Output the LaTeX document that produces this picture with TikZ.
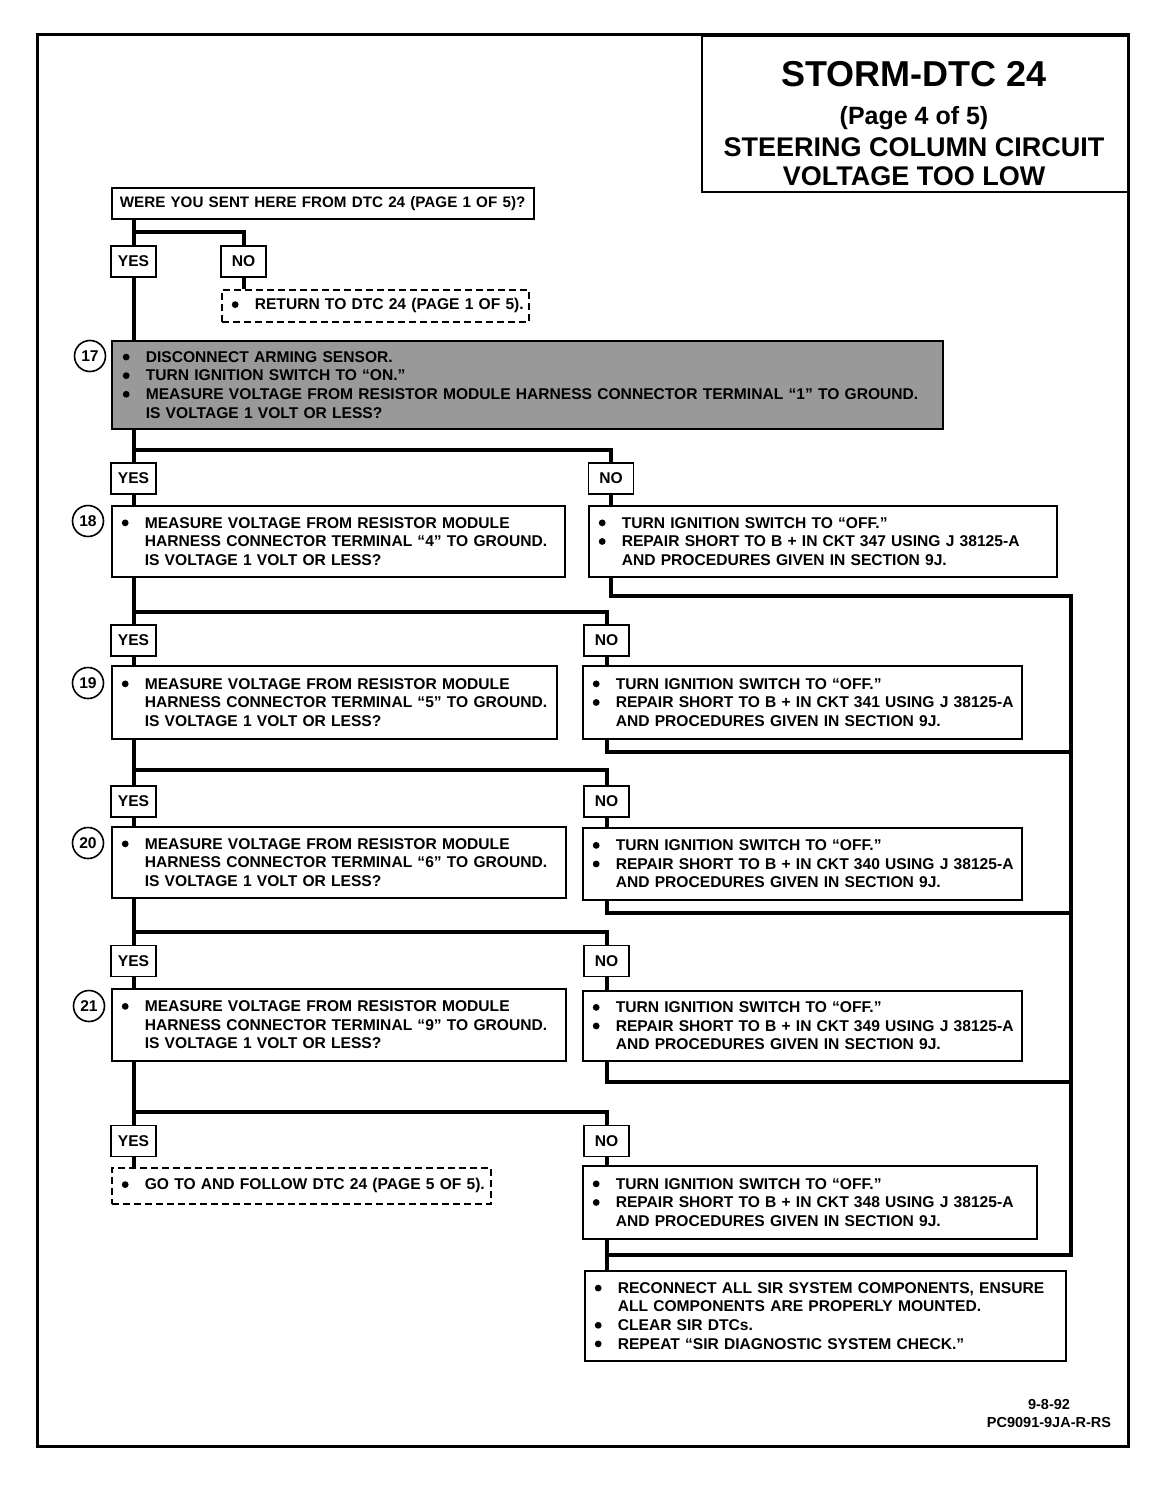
\documentclass[tikz,border=0pt]{standalone}
\usepackage{fontspec}
\setmainfont{Liberation Sans}
\newcommand\txt{\fontsize{15.6}{18.6}\selectfont\bfseries}
\newcommand\dotmark{\tikz[baseline=0pt]\fill (0pt,5.2pt) circle[radius=3.4pt];}
\newcommand\bul[1]{\mbox{\makebox[23pt][l]{\dotmark}#1}}
\newcommand\ind[1]{\mbox{\hspace{23pt}#1}}
\begin{document}
\begin{tikzpicture}[x=1pt,y=-1pt,
  box/.style={draw, line width=1.6pt, anchor=north west, inner xsep=10pt, inner ysep=0pt, align=left, font=\txt},
  bx/.style n args={2}{box, text width=#1, minimum height=#2},
  dbox/.style={dashed, dash pattern=on 7pt off 4pt},
  lab/.style={draw, line width=1.6pt, minimum width=45pt, minimum height=31pt, inner sep=0pt, font=\txt},
  num/.style={draw, circle, line width=1.6pt, minimum size=31pt, inner sep=0pt, font=\txt},
  conn/.style={line width=4pt},
  rconn/.style={line width=4pt, line cap=rect}
]
\useasboundingbox (0,0) rectangle (1152,1488);
\draw[line width=3pt] (37,35) rectangle (1128,1446);
% title
\node[draw, line width=2pt, anchor=north west, minimum width=427pt, minimum height=156pt, inner sep=0pt] (title) at (701,35) {};
\node[anchor=base, font=\fontsize{36}{40}\selectfont\bfseries] (t1) at (914,86) {STORM-DTC 24};
\node[anchor=base, font=\fontsize{25}{30}\selectfont\bfseries] (t2) at (914,124) {(Page 4 of 5)};
\node[anchor=base, font=\fontsize{27}{30}\selectfont\bfseries] (t3) at (914,156) {STEERING COLUMN CIRCUIT};
\node[anchor=base, font=\fontsize{27}{30}\selectfont\bfseries] (t4) at (914,185) {VOLTAGE TOO LOW};

% question
\node[bx={406pt}{31pt}, inner xsep=8pt] (q) at (111,187) {\mbox{\fontsize{15.2}{18}\selectfont WERE YOU SENT HERE FROM DTC 24 (PAGE 1 OF 5)?}};
\node[lab] (y0) at (133.5,261.5) {YES};
\node[lab] (n0) at (243.5,261.5) {NO};
\node[bx={287pt}{32pt}, dbox] (r0) at (221,289) {\bul{RETURN TO DTC 24 (PAGE 1 OF 5).}};
\coordinate (b0) at (133.5,232);

% step 17
\node[bx={809pt}{88pt}, fill=black!40, inner xsep=11pt] (s17) at (111,340) {\bul{DISCONNECT ARMING SENSOR.}\\
\bul{TURN IGNITION SWITCH TO “ON.”}\\
\bul{MEASURE VOLTAGE FROM RESISTOR MODULE HARNESS CONNECTOR TERMINAL “1” TO GROUND.}\\
\ind{IS VOLTAGE 1 VOLT OR LESS?}};
\node[num] (c17) at (90,356) {17};
\coordinate (b17) at (133.5,450);
\node[lab] (y17) at (133.5,478.5) {YES};
\node[lab] (n17) at (611,478.5) {NO};

% step 18
\node[bx={433pt}{71pt}, inner xsep=10pt] (s18) at (111,505) {\bul{MEASURE VOLTAGE FROM RESISTOR MODULE}\\
\ind{HARNESS CONNECTOR TERMINAL “4” TO GROUND.}\\
\ind{IS VOLTAGE 1 VOLT OR LESS?}};
\node[num] (c18) at (88,521) {18};
\node[bx={448pt}{71pt}] (a18) at (588,505) {\bul{TURN IGNITION SWITCH TO “OFF.”}\\
\bul{REPAIR SHORT TO B + IN CKT 347 USING J 38125-A}\\
\ind{AND PROCEDURES GIVEN IN SECTION 9J.}};
\coordinate (m18) at (1071,596);
\coordinate (b18) at (133.5,612);
\node[lab] (y18) at (133.5,640.5) {YES};
\node[lab] (n18) at (606.5,640.5) {NO};

% step 19
\node[bx={425pt}{73pt}] (s19) at (111,665) {\bul{MEASURE VOLTAGE FROM RESISTOR MODULE}\\
\ind{HARNESS CONNECTOR TERMINAL “5” TO GROUND.}\\
\ind{IS VOLTAGE 1 VOLT OR LESS?}};
\node[num] (c19) at (88,683) {19};
\node[bx={419pt}{73pt}] (a19) at (582,665) {\bul{TURN IGNITION SWITCH TO “OFF.”}\\
\bul{REPAIR SHORT TO B + IN CKT 341 USING J 38125-A}\\
\ind{AND PROCEDURES GIVEN IN SECTION 9J.}};
\coordinate (m19) at (1071,752);
\coordinate (b19) at (133.5,770);
\node[lab] (y19) at (133.5,801.5) {YES};
\node[lab] (n19) at (606.5,801.5) {NO};

% step 20
\node[bx={434pt}{71pt}] (s20) at (111,826) {\bul{MEASURE VOLTAGE FROM RESISTOR MODULE}\\
\ind{HARNESS CONNECTOR TERMINAL “6” TO GROUND.}\\
\ind{IS VOLTAGE 1 VOLT OR LESS?}};
\node[num] (c20) at (88,843) {20};
\node[bx={419pt}{72pt}] (a20) at (582,827) {\bul{TURN IGNITION SWITCH TO “OFF.”}\\
\bul{REPAIR SHORT TO B + IN CKT 340 USING J 38125-A}\\
\ind{AND PROCEDURES GIVEN IN SECTION 9J.}};
\coordinate (m20) at (1071,913);
\coordinate (b20) at (133.5,932);
\node[lab] (y20) at (133.5,961) {YES};
\node[lab] (n20) at (606.5,961) {NO};

% step 21
\node[bx={434pt}{72pt}] (s21) at (111,988) {\bul{MEASURE VOLTAGE FROM RESISTOR MODULE}\\
\ind{HARNESS CONNECTOR TERMINAL “9” TO GROUND.}\\
\ind{IS VOLTAGE 1 VOLT OR LESS?}};
\node[num] (c21) at (89,1006) {21};
\node[bx={419pt}{70pt}] (a21) at (582,990) {\bul{TURN IGNITION SWITCH TO “OFF.”}\\
\bul{REPAIR SHORT TO B + IN CKT 349 USING J 38125-A}\\
\ind{AND PROCEDURES GIVEN IN SECTION 9J.}};
\coordinate (m21) at (1071,1082);
\coordinate (b21) at (133.5,1112);
\node[lab] (y21) at (133.5,1141) {YES};
\node[lab] (n21) at (606.5,1141) {NO};

% ends
\node[bx={359pt}{36pt}, dbox] (goto) at (111,1167) {\bul{GO TO AND FOLLOW DTC 24 (PAGE 5 OF 5).}};
\node[bx={434pt}{73pt}] (a22) at (582,1165) {\bul{TURN IGNITION SWITCH TO “OFF.”}\\
\bul{REPAIR SHORT TO B + IN CKT 348 USING J 38125-A}\\
\ind{AND PROCEDURES GIVEN IN SECTION 9J.}};
\coordinate (m22) at (1071,1255);
\node[bx={461pt}{90pt}] (fin) at (584,1270) {\bul{RECONNECT ALL SIR SYSTEM COMPONENTS, ENSURE}\\
\ind{ALL COMPONENTS ARE PROPERLY MOUNTED.}\\
\bul{CLEAR SIR DTCs.}\\
\bul{REPEAT “SIR DIAGNOSTIC SYSTEM CHECK.”}};

\node[align=center, font=\fontsize{14.5}{18}\selectfont\bfseries] (foot) at (1049,1413) {9-8-92\\PC9091-9JA-R-RS};

% connectors
\draw[conn] (y0.north |- q.south) -- (y0.north);
\draw[conn] (b0) -| (n0.north);
\draw[conn] (n0.south) -- (n0.south |- r0.north);
\draw[conn] (y0.south) -- (y0.south |- s17.north);

\draw[conn] (y0.south |- s17.south) -- (y17.north);
\draw[conn] (b17) -| (n17.north);
\draw[conn] (y17.south) -- (y17.south |- s18.north);
\draw[conn] (n17.south) -- (n17.south |- a18.north);
\draw[rconn] (n17.south |- a18.south) |- (m18);

\draw[conn] (y17.south |- s18.south) -- (y18.north);
\draw[conn] (b18) -| (n18.north);
\draw[conn] (y18.south) -- (y18.south |- s19.north);
\draw[conn] (n18.south) -- (n18.south |- a19.north);
\draw[rconn] (n18.south |- a19.south) |- (m19);

\draw[conn] (y18.south |- s19.south) -- (y19.north);
\draw[conn] (b19) -| (n19.north);
\draw[conn] (y19.south) -- (y19.south |- s20.north);
\draw[conn] (n19.south) -- (n19.south |- a20.north);
\draw[rconn] (n19.south |- a20.south) |- (m20);

\draw[conn] (y19.south |- s20.south) -- (y20.north);
\draw[conn] (b20) -| (n20.north);
\draw[conn] (y20.south) -- (y20.south |- s21.north);
\draw[conn] (n20.south) -- (n20.south |- a21.north);
\draw[rconn] (n20.south |- a21.south) |- (m21);

\draw[conn] (y20.south |- s21.south) -- (y21.north);
\draw[conn] (b21) -| (n21.north);
\draw[conn] (y21.south) -- (y21.south |- goto.north);
\draw[conn] (n21.south) -- (n21.south |- a22.north);
\draw[conn] (n21.south |- a22.south) -- (n21.south |- fin.north);
\draw[rconn] (m18) -- (m22) -- (m22 -| n21.south);
\end{tikzpicture}
\end{document}
